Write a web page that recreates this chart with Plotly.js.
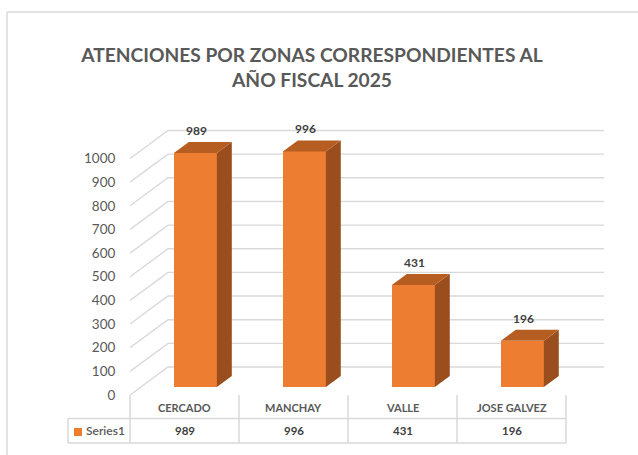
<!DOCTYPE html>
<html>
<head>
<meta charset="utf-8">
<script src="https://cdn.plot.ly/plotly-3.0.1.min.js"></script>
<style>html,body{margin:0;padding:0;background:#fff;}#chart{width:638px;height:455px;}</style>
</head>
<body>
<div id="chart"></div>
<script>
// ---- data ----
const categories = ['CERCADO', 'MANCHAY', 'VALLE', 'JOSE GALVEZ'];
const values = [989, 996, 431, 196];
const seriesName = 'Series1';
const yTicks = [0, 100, 200, 300, 400, 500, 600, 700, 800, 900, 1000];
const titleText = 'ATENCIONES POR ZONAS CORRESPONDIENTES AL<br>AÑO FISCAL 2025';

// ---- layout constants (pixels) ----
const W = 638, H = 455, L = 130, R = 28, T = 120, B = 60;
const pxPerCol = 109, pxPerVal = 0.2365;
const wallDxPx = 38, wallDyPx = 28;          // depth of the 3D box
const barFront = 8 / 28, barBack = 19 / 28;   // bar depth positions (fraction of box depth)
const barHalfPx = 21.5;

const plotW = W - L - R, plotH = H - T - B;
const xMax = plotW / pxPerCol, yMax = plotH / pxPerVal;
const dxU = wallDxPx / pxPerCol, dyU = wallDyPx / pxPerVal;
const barHalf = barHalfPx / pxPerCol;
const nCat = categories.length;

function proj(x, v, d) { return [x + d * dxU, v + d * dyU]; }
function pxX(p) { return (p - L) / plotW; }
function pxY(p) { return (H - B - p) / plotH; }
function uX(u) { return u / xMax; }

const grid = '#D9D9D9';
const traces = [];
const shapes = [];

// back wall gridlines + left wall diagonals (below the bars)
yTicks.forEach(v => {
  const a = proj(0, v, 0), b = proj(0, v, 1), c = proj(nCat, v, 1);
  shapes.push({type: 'path', xref: 'x', yref: 'y', layer: 'below',
    path: 'M' + a[0] + ',' + a[1] + ' L' + b[0] + ',' + b[1] + ' L' + c[0] + ',' + c[1],
    line: {color: grid, width: 1.4}});
});

// bar side & top faces
const sx = [], sy = [], tx = [], ty = [];
values.forEach((v, i) => {
  const c = i + 0.5, xl = c - barHalf, xr = c + barHalf;
  [[xr, v, barFront], [xr, v, barBack], [xr, 0, barBack], [xr, 0, barFront]].forEach(p => {
    const q = proj(p[0], p[1], p[2]); sx.push(q[0]); sy.push(q[1]);
  });
  sx.push(null); sy.push(null);
  [[xl, v, barFront], [xr, v, barFront], [xr, v, barBack], [xl, v, barBack]].forEach(p => {
    const q = proj(p[0], p[1], p[2]); tx.push(q[0]); ty.push(q[1]);
  });
  tx.push(null); ty.push(null);
});

// bar front faces
traces.push({type: 'bar', name: seriesName,
  x: values.map((v, i) => proj(i + 0.5, 0, barFront)[0]),
  y: values, base: proj(0, 0, barFront)[1], width: 2 * barHalf,
  marker: {color: '#ED7D31', line: {width: 0}}, hoverinfo: 'skip', showlegend: false});
traces.push({type: 'scatter', mode: 'lines', x: sx, y: sy, fill: 'toself', fillcolor: '#9A4D1D',
  line: {width: 0, color: '#9A4D1D'}, hoverinfo: 'skip', showlegend: false});
traces.push({type: 'scatter', mode: 'lines', x: tx, y: ty, fill: 'toself', fillcolor: '#B65E22',
  line: {width: 0, color: '#B65E22'}, hoverinfo: 'skip', showlegend: false});

const annotations = [];
const fontF = 'Lato, "Open Sans", sans-serif';
// data labels
values.forEach((v, i) => {
  const p = proj(i + 0.5, v, barBack);
  annotations.push({x: proj(i + 0.5, 0, barFront + 0.03)[0], y: p[1], xref: 'x', yref: 'y',
    text: String(v), showarrow: false, xanchor: 'center', yanchor: 'bottom', yshift: 2,
    font: {family: fontF, size: 12, color: '#404040', weight: 'bold'}});
});

// data table
const rowTop = 395, rowMid = 418.5, rowBot = 443, tableLeft = 68;
for (let i = 0; i <= nCat; i++) {
  shapes.push({type: 'line', xref: 'paper', yref: 'paper', x0: uX(i), x1: uX(i),
    y0: pxY(rowTop), y1: pxY(rowBot), line: {color: grid, width: 1.5}});
}
[rowMid, rowBot].forEach(p => shapes.push({type: 'line', xref: 'paper', yref: 'paper',
  x0: pxX(tableLeft), x1: uX(nCat), y0: pxY(p), y1: pxY(p), line: {color: grid, width: 1.5}}));
shapes.push({type: 'line', xref: 'paper', yref: 'paper', x0: pxX(tableLeft), x1: pxX(tableLeft),
  y0: pxY(rowMid), y1: pxY(rowBot), line: {color: grid, width: 1.5}});
// legend key
shapes.push({type: 'rect', xref: 'paper', yref: 'paper', x0: pxX(74), x1: pxX(82),
  y0: pxY(436), y1: pxY(428), fillcolor: '#ED7D31', line: {width: 0}});
// chart border
shapes.push({type: 'line', xref: 'paper', yref: 'paper', x0: pxX(7), x1: pxX(W + 5),
  y0: pxY(12), y1: pxY(12), line: {color: grid, width: 1.5}});
shapes.push({type: 'line', xref: 'paper', yref: 'paper', x0: pxX(7), x1: pxX(7),
  y0: pxY(12), y1: pxY(H + 5), line: {color: grid, width: 1.5}});

categories.forEach((c, i) => {
  annotations.push({x: i + 0.5, y: pxY((rowTop + rowMid) / 2 + 1), xref: 'x', yref: 'paper', text: c,
    showarrow: false, xanchor: 'center', yanchor: 'middle',
    font: {family: fontF, size: 11, color: '#595959', weight: 'bold'}});
  annotations.push({x: i + 0.5, y: pxY((rowMid + rowBot) / 2), xref: 'x', yref: 'paper', text: String(values[i]),
    showarrow: false, xanchor: 'center', yanchor: 'middle',
    font: {family: fontF, size: 11.5, color: '#404040', weight: 'bold'}});
});
annotations.push({x: pxX(84), y: pxY((rowMid + rowBot) / 2), xref: 'paper', yref: 'paper', text: seriesName,
  showarrow: false, xanchor: 'left', yanchor: 'middle',
  font: {family: fontF, size: 12, color: '#595959', weight: 600}});

const layout = {
  width: W, height: H,
  margin: {l: L, r: R, t: T, b: B, pad: 0},
  paper_bgcolor: '#ffffff', plot_bgcolor: 'rgba(0,0,0,0)',
  showlegend: false,
  title: {text: titleText, xref: 'container', yref: 'container', x: 312 / W, xanchor: 'center',
    y: 1 - 62 / H, yanchor: 'middle',
    font: {family: fontF, size: 19.2, color: '#595959', weight: 'bold'}},
  xaxis: {range: [0, xMax], showgrid: false, zeroline: false, showline: false,
    showticklabels: false, ticks: '', fixedrange: true},
  yaxis: {range: [0, yMax], showgrid: false, zeroline: false, showline: false,
    tickmode: 'array', tickvals: yTicks, ticktext: yTicks.map(String),
    ticks: 'outside', ticklen: 11, tickcolor: 'rgba(0,0,0,0)',
    tickfont: {family: fontF, size: 13.5, color: '#595959'}, fixedrange: true},
  shapes: shapes,
  annotations: annotations,
  bargap: 0
};

Plotly.newPlot('chart', traces, layout, {displayModeBar: false, staticPlot: true});
</script>
</body>
</html>
